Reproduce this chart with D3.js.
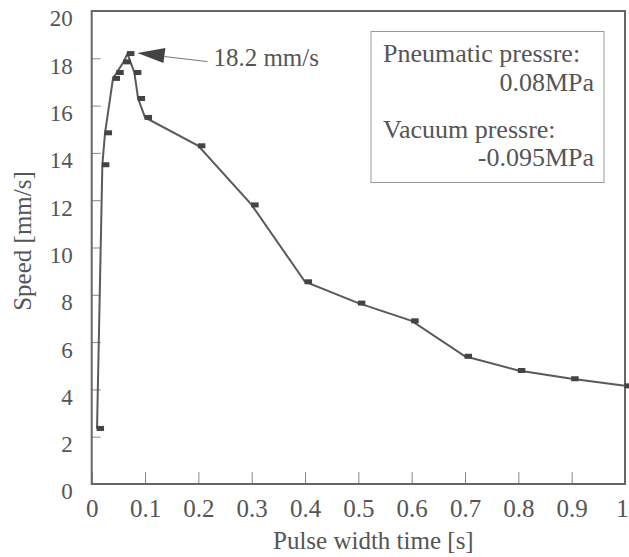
<!DOCTYPE html>
<html>
<head>
<meta charset="utf-8">
<script src="https://cdn.jsdelivr.net/npm/d3@7"></script>
<style>
  body { margin: 0; background: #fff; }
  svg text { font-family: "Liberation Serif", "Times New Roman", serif; fill: #555; }
</style>
</head>
<body>
<svg id="chart" width="629" height="557"></svg>
<script>
// pulse width time [s]
const pulseWidth = [0.01, 0.02, 0.025, 0.04, 0.047, 0.06, 0.067, 0.08, 0.087, 0.1,
                    0.2, 0.3, 0.4, 0.5, 0.6, 0.7, 0.8, 0.9, 1.0];
// speed [mm/s]
const speed = [2.35, 13.5, 14.85, 17.15, 17.4, 17.85, 18.2, 17.4, 16.3, 15.5,
               14.3, 11.8, 8.55, 7.65, 6.9, 5.4, 4.8, 4.45, 4.15];
const xTicks = [0, 0.1, 0.2, 0.3, 0.4, 0.5, 0.6, 0.7, 0.8, 0.9, 1];
const yTicks = [0, 2, 4, 6, 8, 10, 12, 14, 16, 18, 20];
const peak = {x: 0.067, y: 18.2, label: "18.2 mm/s"};
const noteLines = ["Pneumatic pressre:", "0.08MPa", "Vacuum pressre:", "-0.095MPa"];

const data = pulseWidth.map((d, i) => ({x: d, y: speed[i]}));

const plotL = 91.7, plotR = 625, plotT = 11, plotB = 484;
const grey = "#5a5a5a";

const svg = d3.select("#chart");

const xScale = d3.scaleLinear().domain([0, 1]).range([plotL, plotR]);
const yScale = d3.scaleLinear().domain([0, 20]).range([plotB, plotT]);

// x axis, ticks pointing inward
const x_axis = d3.axisBottom(xScale)
    .tickValues(xTicks)
    .tickFormat(d => d3.format("")(d))
    .tickSizeInner(-12)
    .tickSizeOuter(0)
    .tickPadding(15);

const gx = svg.append("g")
    .attr("transform", `translate(0, ${plotB})`)
    .call(x_axis);

// y axis
const y_axis = d3.axisLeft(yScale)
    .tickValues(yTicks)
    .tickSizeInner(-9)
    .tickSizeOuter(0)
    .tickPadding(19);

const gy = svg.append("g")
    .attr("transform", `translate(${plotL}, 0)`)
    .call(y_axis);

[gx, gy].forEach(g => {
    g.select(".domain").remove();
    g.selectAll(".tick line").attr("stroke", "#888").attr("stroke-width", 1);
    g.selectAll(".tick text")
        .attr("font-family", "Liberation Serif")
        .attr("fill", "#555");
});
gx.selectAll(".tick text").attr("font-size", 25);
gy.selectAll(".tick text").attr("font-size", 23).attr("dy", "0.65em");
// keep the last x label inside the page
gx.selectAll(".tick text").filter(d => d === 1).attr("dx", -3);

// frame
svg.append("rect")
    .attr("x", plotL).attr("y", plotT)
    .attr("width", plotR - plotL).attr("height", plotB - plotT)
    .attr("fill", "none")
    .attr("stroke", "#666")
    .attr("stroke-width", 2);

// data line
const line = d3.line()
    .x(d => xScale(d.x))
    .y(d => yScale(d.y));

svg.append("path")
    .datum(data)
    .attr("d", line)
    .attr("fill", "none")
    .attr("stroke", grey)
    .attr("stroke-width", 2);

// markers (small flag-like rectangles)
svg.selectAll(".marker")
    .data(data)
    .join("rect")
    .attr("class", "marker")
    .attr("x", d => xScale(d.x) - 0.5)
    .attr("y", d => yScale(d.y) - 2.5)
    .attr("width", 7.5)
    .attr("height", 5)
    .attr("fill", "#444");

// peak annotation
const px = xScale(peak.x), py = yScale(peak.y);
svg.append("path")
    .attr("d", `M${px + 10},${py - 0.5} L${px + 38},${py - 5.5} L${px + 36},${py + 9.5} Z`)
    .attr("fill", "#444");
svg.append("line")
    .attr("x1", px + 37).attr("y1", py + 3)
    .attr("x2", px + 80).attr("y2", py + 8)
    .attr("stroke", "#777")
    .attr("stroke-width", 1);
svg.append("text")
    .attr("x", px + 86)
    .attr("y", py + 12)
    .attr("font-size", 25)
    .text(peak.label);

// note box
svg.append("rect")
    .attr("x", 371).attr("y", 31.5)
    .attr("width", 233).attr("height", 151)
    .attr("fill", "#fff")
    .attr("stroke", "#999")
    .attr("stroke-width", 1);

const note = svg.append("g").attr("font-size", 26);
note.append("text").attr("x", 383).attr("y", 62).text(noteLines[0]);
note.append("text").attr("x", 594).attr("y", 91).attr("text-anchor", "end").text(noteLines[1]);
note.append("text").attr("x", 383).attr("y", 138).text(noteLines[2]);
note.append("text").attr("x", 594).attr("y", 166).attr("text-anchor", "end").text(noteLines[3]);

// axis titles
svg.append("text")
    .attr("x", 273)
    .attr("y", 549)
    .attr("font-size", 25)
    .text("Pulse width time [s]");

svg.append("text")
    .attr("transform", `translate(31, 241) rotate(-90)`)
    .attr("text-anchor", "middle")
    .attr("font-size", 25)
    .text("Speed [mm/s]");
</script>
</body>
</html>
